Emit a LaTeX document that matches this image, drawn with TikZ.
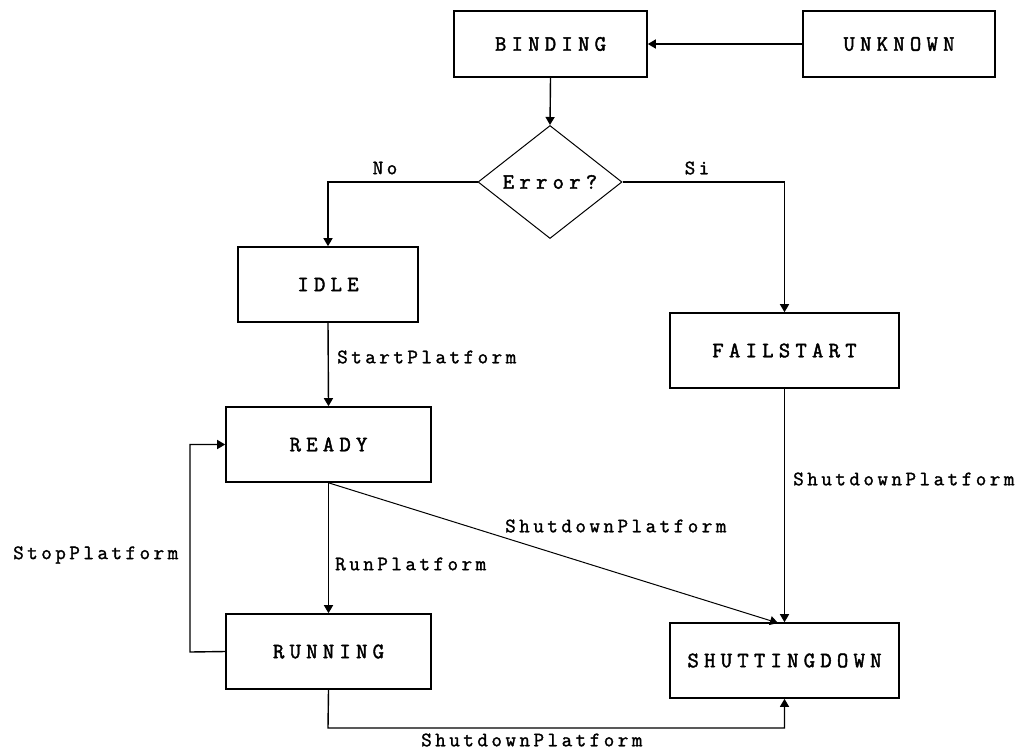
\documentclass[tikz,border=0pt]{standalone}
\usepackage{fontspec}
\usetikzlibrary{shapes.geometric,arrows.meta}
\newfontfamily\boxfont[LetterSpace=24,FakeBold=2]{Latin Modern Mono}
\newfontfamily\labfont[LetterSpace=17,FakeBold=1.6]{Latin Modern Mono}
\tikzset{
  state/.style={draw, line width=1.6pt, rectangle, inner sep=0pt, font=\boxfont\fontsize{22}{24}\selectfont},
  cond/.style={draw, line width=1pt, diamond, inner sep=0pt, font=\boxfont\fontsize{22}{24}\selectfont},
  conn/.style={line width=1.4pt, -{Triangle[length=8pt,width=9pt]}},
  lab/.style={font=\labfont\fontsize{20.5}{22}\selectfont, inner sep=0pt}
}
\begin{document}
\begin{tikzpicture}[x=1pt,y=-1pt]
\useasboundingbox (0,0) rectangle (1024,750);
\node[state, minimum width=193pt, minimum height=66pt] (bind) at (550.5,44) {BINDING};
\node[state, minimum width=192pt, minimum height=66pt] (unk) at (899,44) {UNKNOWN};
\node[cond, minimum width=144pt, minimum height=113pt] (err) at (550,182) {Error?};
\node[state, minimum width=180pt, minimum height=75pt] (idle) at (328,284.5) {IDLE};
\node[state, minimum width=205pt, minimum height=75pt] (ready) at (328.5,444.5) {READY};
\node[state, minimum width=205pt, minimum height=75pt] (run) at (328.5,651.5) {RUNNING};
\node[state, minimum width=229pt, minimum height=75pt] (fail) at (784.5,350.5) {FAILSTART};
\node[state, minimum width=229pt, minimum height=75pt] (shut) at (784.5,660.5) {SHUTTINGDOWN};

\coordinate (stopc) at (190,652);
\coordinate (botc) at (328,728);
\coordinate (diagend) at (778,623);

\draw[conn] (unk.west) -- (bind.east);
\draw[conn] (bind.south) -- (err.north);
\draw[conn] (err.west) -| (idle.north);
\draw[conn] (err.east) -| (fail.north);
\draw[conn] (idle.south) -- (ready.north);
\draw[conn] (ready.south) -- (run.north);
\draw[conn] (run.west) -- (stopc) |- (ready.west);
\draw[conn, line width=1pt] (ready.south) -- (diagend);
\draw[conn] (fail.south) -- (shut.north);
\draw[conn] (run.south) -- (botc) -| (shut.south);

\node[lab] (lno) at (385,168) {No};
\node[lab] (lsi) at (697,168) {Si};
\node[lab, anchor=west] (lstart) at (337,357) {StartPlatform};
\node[lab, anchor=west] (lrun) at (335,564) {RunPlatform};
\node[lab, anchor=west] (lstop) at (13,555) {StopPlatform};
\node[lab, anchor=west] (ldiag) at (505,526) {ShutdownPlatform};
\node[lab, anchor=west] (lfail) at (793,479) {ShutdownPlatform};
\node[lab, anchor=west] (lbot) at (421,740) {ShutdownPlatform};
\end{tikzpicture}
\end{document}
